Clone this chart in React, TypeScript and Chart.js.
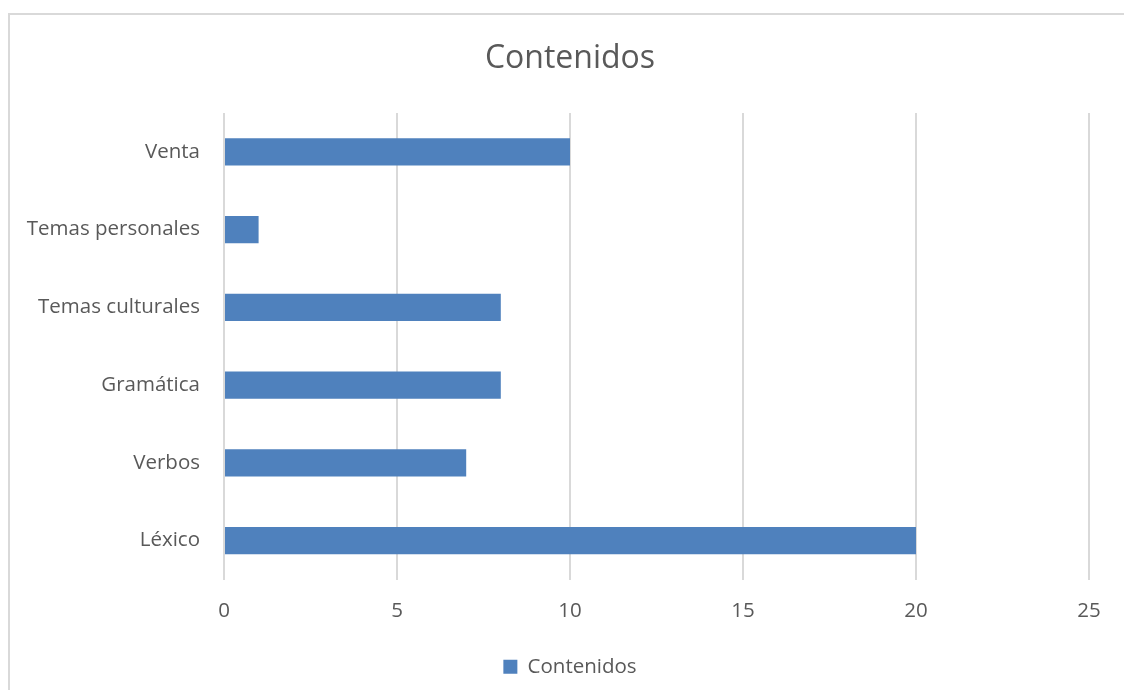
import React, { useEffect, useRef } from "react";
import { Chart, registerables } from "chart.js";

Chart.register(...registerables);

const categories = ["Venta", "Temas personales", "Temas culturales", "Gramática", "Verbos", "Léxico"];
const values = [10, 1, 8, 8, 7, 20];
const seriesName = "Contenidos";
const xMin = 0;
const xMax = 25;
const xStep = 5;

const FONT = "'Open Sans', 'Noto Sans', sans-serif";
const TEXT = "#595959";
const GRID = "#d9d9d9";
const BAR = "#4F81BD";

export default function App() {
  const ref = useRef<HTMLCanvasElement | null>(null);

  useEffect(() => {
    if (!ref.current) return;
    const chart = new Chart(ref.current, {
      type: "bar",
      data: {
        labels: categories,
        datasets: [
          {
            label: seriesName,
            data: values,
            backgroundColor: BAR,
            borderWidth: 0,
            categoryPercentage: 1,
            barPercentage: 0.35,
          },
        ],
      },
      options: {
        indexAxis: "y",
        animation: false,
        responsive: false,
        maintainAspectRatio: false,
        layout: { padding: { top: 0, right: 0, bottom: 3, left: 0 } },
        plugins: {
          title: {
            display: true,
            text: "Contenidos",
            color: TEXT,
            font: { family: FONT, size: 32, weight: "normal" },
            padding: { top: 25, bottom: 34.6 },
          },
          legend: {
            display: true,
            position: "bottom",
            labels: {
              color: TEXT,
              font: { family: FONT, size: 20.5 },
              boxWidth: 14,
              boxHeight: 14,
            },
          },
          tooltip: { enabled: false },
        },
        scales: {
          x: {
            type: "linear",
            min: xMin,
            max: xMax,
            ticks: {
              stepSize: xStep,
              color: TEXT,
              font: { family: FONT, size: 20.5 },
              padding: 19,
            },
            grid: { color: GRID, lineWidth: 2, drawTicks: false },
            border: { display: false },
            afterFit: (s: any) => {
              s.height = 67;
            },
          },
          y: {
            ticks: {
              color: TEXT,
              font: { family: FONT, size: 20.5 },
              padding: 24,
            },
            grid: { display: false, drawTicks: false },
            border: { display: false },
            afterFit: (s: any) => {
              s.width = 214;
            },
          },
          yRight: {
            type: "category",
            position: "right",
            display: true,
            ticks: { display: false },
            grid: { display: false, drawTicks: false },
            border: { display: false },
            afterFit: (s: any) => {
              s.width = 41;
            },
          },
        },
      },
    });
    return () => chart.destroy();
  }, []);

  return (
    <div
      style={{
        position: "absolute",
        left: 8,
        top: 13,
        width: 1116,
        height: 677,
        boxSizing: "border-box",
        borderLeft: `2px solid ${GRID}`,
        borderTop: `2px solid ${GRID}`,
        background: "#fff",
        overflow: "hidden",
      }}
    >
      <canvas ref={ref} width={1120} height={675} style={{ display: "block" }} />
    </div>
  );
}
